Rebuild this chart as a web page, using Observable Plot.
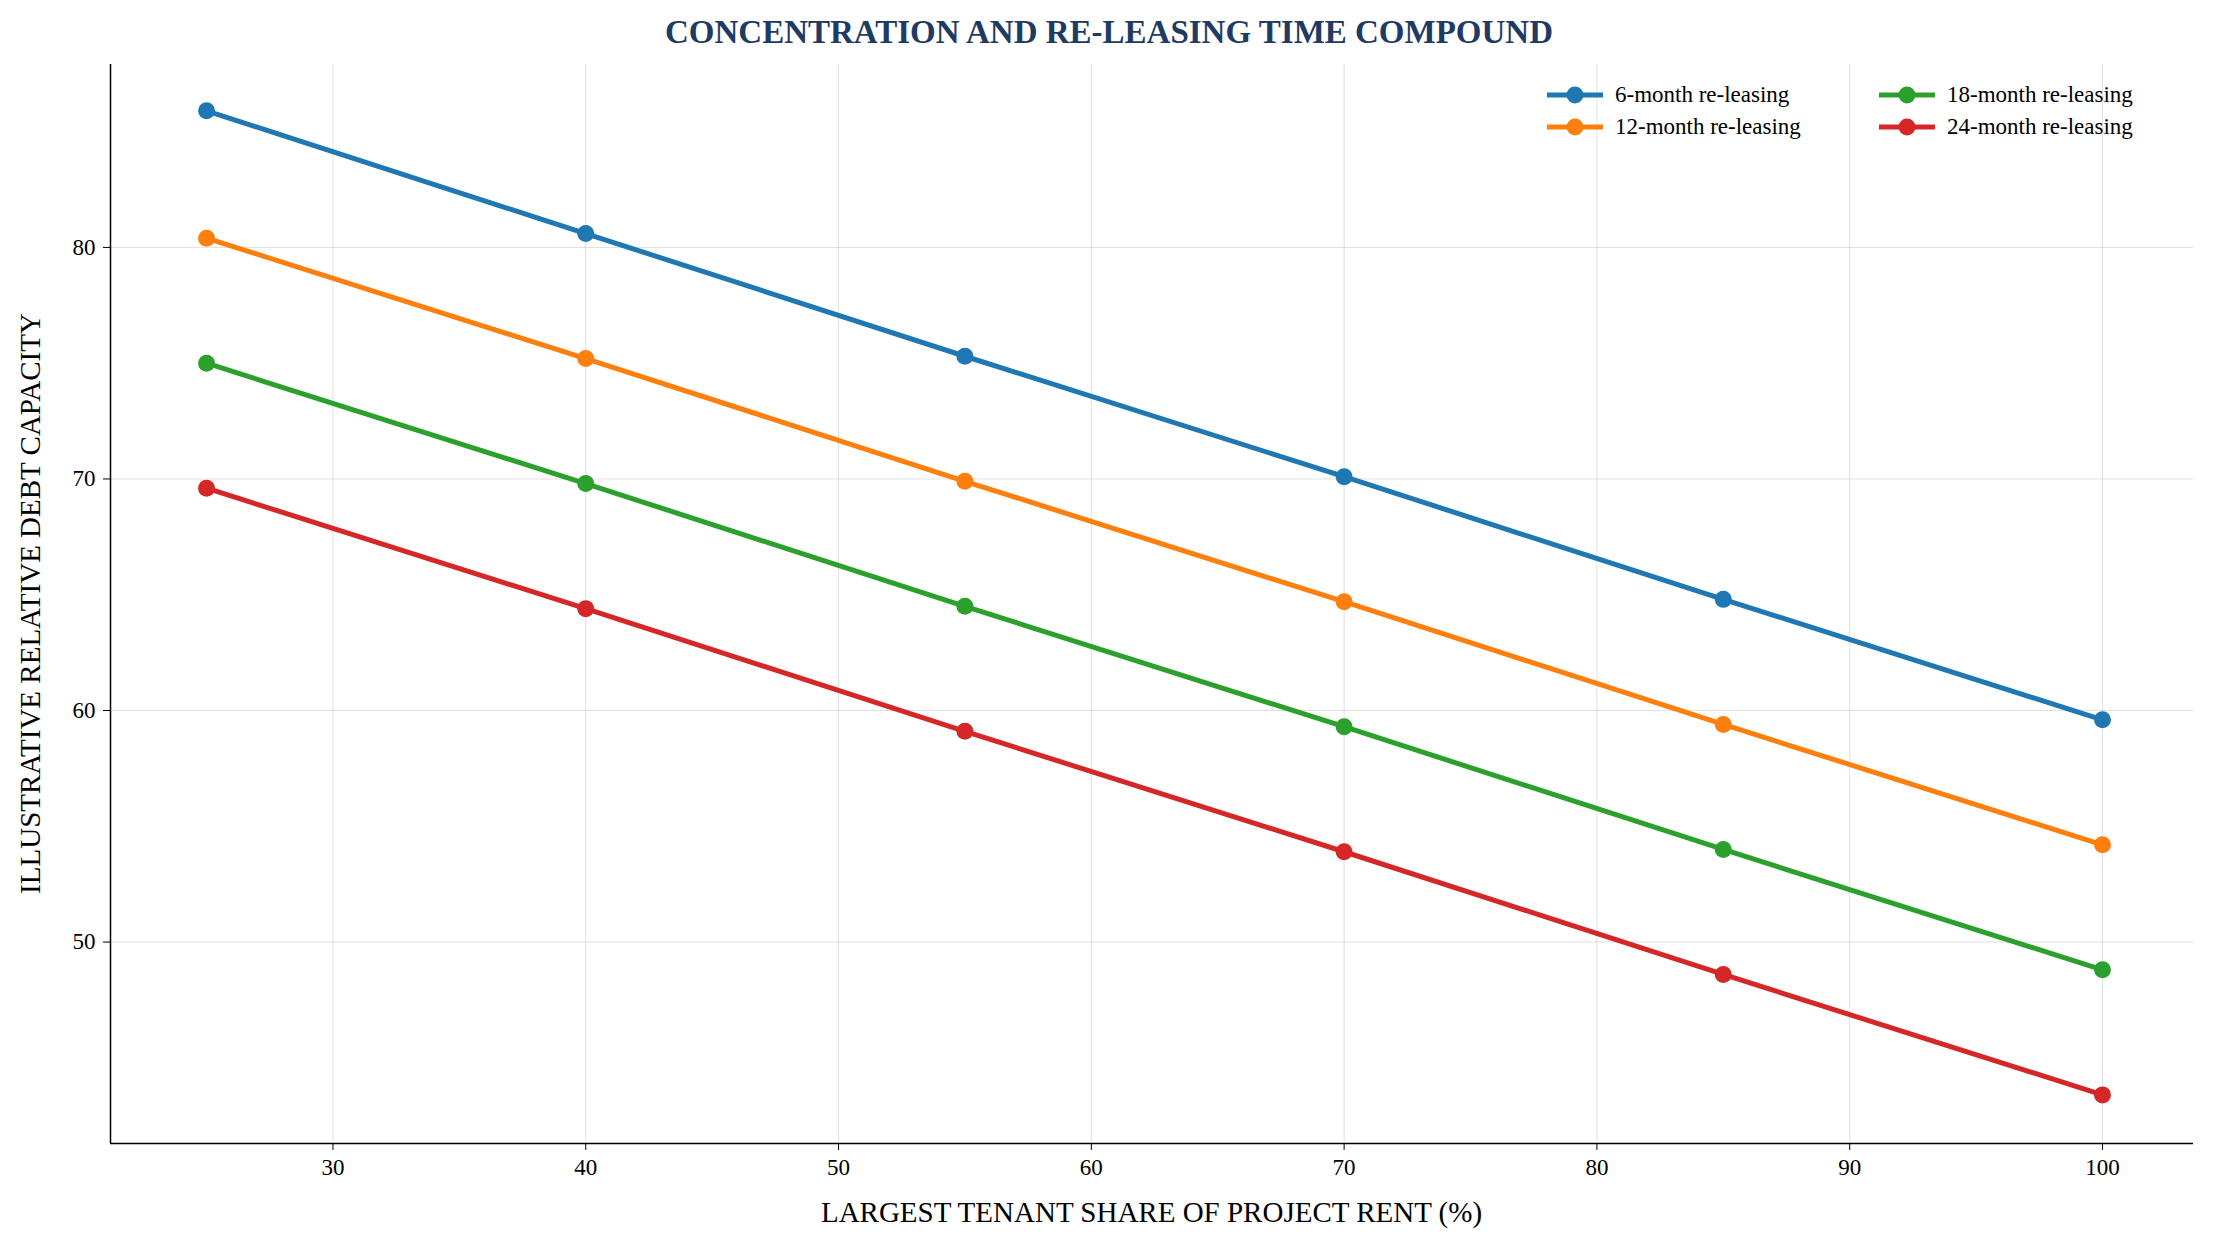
<!DOCTYPE html>
<html><head><meta charset="utf-8">
<script src="https://cdn.jsdelivr.net/npm/d3@7"></script>
<script src="https://cdn.jsdelivr.net/npm/@observablehq/plot@0.6"></script>
<style>
body{margin:0;background:#fff;font-family:"Liberation Serif",serif;}
#wrap{position:relative;width:2218px;height:1252px;}
#title{height:50px;line-height:64px;text-align:center;font-weight:bold;font-size:33px;color:#1f3b63;}
#legend{position:absolute;left:1545px;top:82px;display:grid;grid-template-columns:332px 300px;row-gap:6px;font-size:23px;}
.it{display:flex;align-items:center;gap:10px;}
.it svg{width:60px;height:24px}
</style></head><body>
<div id="wrap"><div id="title">CONCENTRATION AND RE-LEASING TIME COMPOUND</div><div id="chart"></div><div id="legend"></div></div>
<script>
const shares=[25,40,55,70,85,100];
const seriesNames=["6-month re-leasing","12-month re-leasing","18-month re-leasing","24-month re-leasing"];
const colors=["#1f77b4","#ff7f0e","#2ca02c","#d62728"];
const s6=[85.9,80.6,75.3,70.1,64.8,59.6];
const s12=[80.4,75.2,69.9,64.7,59.4,54.2];
const s18=[75.0,69.8,64.5,59.3,54.0,48.8];
const s24=[69.6,64.4,59.1,53.9,48.6,43.4];
const all=[s6,s12,s18,s24];
const data=[];
all.forEach((arr,i)=>arr.forEach((v,j)=>data.push({series:seriesNames[i],x:shares[j],y:v})));
const xd=[21.2,103.6], yd=[41.3,87.9];
const plot=Plot.plot({
 width:2218,height:1202,marginTop:14,marginBottom:109,marginLeft:110,marginRight:25,
 style:{fontFamily:"Liberation Serif",fontSize:"23px",color:"#000"},
 x:{domain:xd,ticks:[30,40,50,60,70,80,90,100],label:null},
 y:{domain:yd,ticks:[50,60,70,80],label:null},
 color:{domain:seriesNames,range:colors},
 marks:[
  Plot.gridX([30,40,50,60,70,80,90,100],{stroke:"#000",strokeOpacity:0.12}),
  Plot.gridY([50,60,70,80],{stroke:"#000",strokeOpacity:0.12}),
  Plot.axisX({ticks:[30,40,50,60,70,80,90,100],tickSize:7,tickPadding:8,label:null}),
  Plot.axisY({ticks:[50,60,70,80],tickSize:7,tickPadding:8,label:null}),
  Plot.ruleX([xd[0]],{stroke:"#000",strokeWidth:1.5}),
  Plot.ruleY([yd[0]],{stroke:"#000",strokeWidth:1.5}),
  Plot.line(data,{x:"x",y:"y",z:"series",stroke:"series",strokeWidth:5}),
  Plot.dot(data,{x:"x",y:"y",fill:"series",r:8.5})
 ]
});
const svg=d3.select(plot);
svg.append("text").attr("x",(110+2193)/2).attr("y",1172).attr("text-anchor","middle").attr("font-size",29).text("LARGEST TENANT SHARE OF PROJECT RENT (%)");
svg.append("text").attr("transform",`translate(40,${(14+1093)/2}) rotate(-90)`).attr("text-anchor","middle").attr("font-size",29).text("ILLUSTRATIVE RELATIVE DEBT CAPACITY");
document.getElementById("chart").appendChild(plot);
const order=[0,2,1,3];
const lg=document.getElementById("legend");
order.forEach(i=>{const d=document.createElement("div");d.className="it";
d.innerHTML=`<svg><line x1="2" x2="58" y1="12" y2="12" stroke="${colors[i]}" stroke-width="5"/><circle cx="30" cy="12" r="8.5" fill="${colors[i]}"/></svg><span>${seriesNames[i]}</span>`;lg.appendChild(d);});
</script></body></html>
